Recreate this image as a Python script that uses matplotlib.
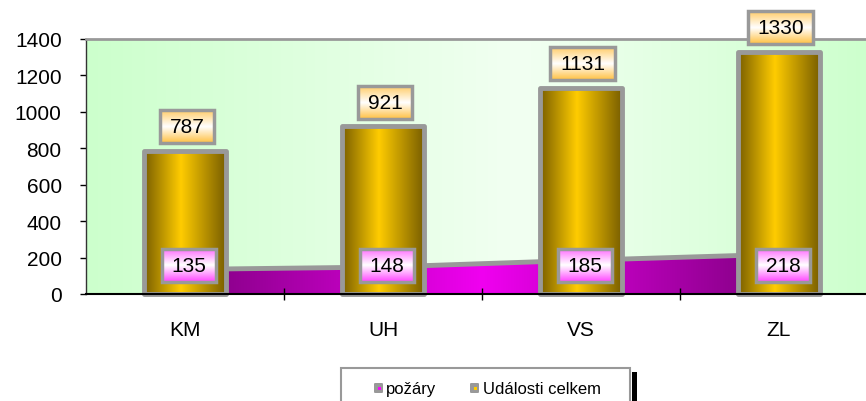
import numpy as np
import matplotlib
matplotlib.use("Agg")
import matplotlib.pyplot as plt
from matplotlib.colors import LinearSegmentedColormap
from matplotlib.patches import Rectangle, Polygon, FancyBboxPatch

plt.rcParams['font.family'] = ['Liberation Sans', 'DejaVu Sans']

# data
categories = ["KM", "UH", "VS", "ZL"]
udalosti = [787, 921, 1131, 1330]
pozary = [135, 148, 185, 218]
yticks = [0, 200, 400, 600, 800, 1000, 1200, 1400]
legend_labels = ["požáry", "Události celkem"]

W, H = 866, 402
fig = plt.figure(figsize=(W / 100, H / 100), dpi=100)
# plot area in pixels: left 86, top 40, bottom 295, right 878 (runs off the figure)
ax = fig.add_axes([86 / W, 1 - 295 / H, 792 / W, 255 / H])
x0, x1, y0, y1 = -0.5, 3.5, 0, 1400
px_x = (x1 - x0) / 792.0
px_y = (y1 - y0) / 255.0

gray = "#999999"
bg_cmap = LinearSegmentedColormap.from_list("bg", [(0, "#ccffcc"), (0.55, "#f2fff2"), (1, "#ccffcc")])
bar_cmap = LinearSegmentedColormap.from_list("bar", [(0, "#7a5f00"), (0.45, "#ffcc00"), (1, "#7a5f00")])
area_cmap = LinearSegmentedColormap.from_list("area", [(0, "#800080"), (0.5, "#f000f0"), (1, "#800080")])
tot_cmap = LinearSegmentedColormap.from_list("tot", [(0, "#ffcc66"), (0.5, "#ffffff"), (1, "#ffc040")])
poz_cmap = LinearSegmentedColormap.from_list("poz", [(0, "#ff66ff"), (0.5, "#ffffff"), (1, "#ff44ff")])

hgrad = np.linspace(0, 1, 256).reshape(1, -1)
vgrad = np.linspace(0, 1, 256).reshape(-1, 1)

# background
ax.imshow(hgrad, extent=[x0, x1, y0, y1], aspect="auto", cmap=bg_cmap, zorder=0)

# area series (požáry)
xs = np.arange(len(categories))
verts = [(xs[0], 0)] + list(zip(xs, pozary)) + [(xs[-1], 0)]
poly = Polygon(verts, closed=True, facecolor="none", edgecolor="none", transform=ax.transData)
ax.add_patch(poly)
im = ax.imshow(hgrad, extent=[xs[0], xs[-1], 0, max(pozary)], aspect="auto", cmap=area_cmap, zorder=1)
im.set_clip_path(poly)
ax.plot(xs, pozary, color=gray, lw=3.5, zorder=1.5, solid_capstyle="butt")

# bars (Události celkem)
bw = 0.41
for i, v in enumerate(udalosti):
    ax.imshow(hgrad, extent=[i - bw / 2, i + bw / 2, 0, v], aspect="auto", cmap=bar_cmap, zorder=3)
    ax.add_patch(Rectangle((i - bw / 2, 0), bw, v, fill=False, edgecolor=gray, lw=3.5,
                           joinstyle="round", zorder=4, clip_on=False))


def label_box(xc, yc, text, cmap):
    w = (len(text) * 11 + 21) * px_x
    h = 33 * px_y
    ext = [xc - w / 2, xc + w / 2, yc - h / 2, yc + h / 2]
    img = ax.imshow(vgrad, extent=ext, aspect="auto", cmap=cmap, zorder=5, origin="upper")
    img.set_clip_on(False)
    ax.add_patch(Rectangle((ext[0], ext[2]), w, h, fill=False, edgecolor=gray, lw=2.5,
                           zorder=6, clip_on=False))
    ax.text(xc, yc, text, ha="center", va="center", fontsize=15, zorder=7, clip_on=False)


for i, v in enumerate(udalosti):
    label_box(i + 0.01, v + 132, str(v), tot_cmap)
for i, v in enumerate(pozary):
    label_box(i + 0.02, 158, str(v), poz_cmap)

ax.set_xlim(x0, x1)
ax.set_ylim(y0, y1)

# axes styling
ax.spines["top"].set_color(gray)
ax.spines["top"].set_linewidth(2)
ax.spines["right"].set_visible(False)
ax.spines["left"].set_color("#333333")
ax.spines["left"].set_linewidth(1)
ax.spines["bottom"].set_color("black")
ax.spines["bottom"].set_linewidth(1.5)
ax.spines["bottom"].set_zorder(8)

ax.set_yticks(yticks)
ax.set_yticklabels([str(t) for t in yticks], fontsize=15)
ax.tick_params(axis="y", direction="out", length=4.5, width=1, pad=13)

ax.set_xticks(xs[:-1] + 0.5)
ax.set_xticklabels([])
ax.tick_params(axis="x", which="major", direction="inout", length=9, width=1)
ax.set_xticks(xs, minor=True)
ax.set_xticklabels(categories, minor=True, fontsize=15)
ax.tick_params(axis="x", which="minor", length=0, pad=19)

# legend drawn in figure pixels
def fx(p):
    return p / W


def fy(p):
    return 1 - p / H


fig.add_artist(Rectangle((fx(632), fy(405)), fx(5), 32 / H, transform=fig.transFigure,
                         facecolor="black", edgecolor="none", clip_on=False))
fig.add_artist(Rectangle((fx(341), fy(410)), fx(630 - 341), 41 / H, transform=fig.transFigure,
                         facecolor="white", edgecolor=gray, lw=1.5, clip_on=False))
for lx, tx, col, lab in [(374, 386, "#ff00ff", legend_labels[0]),
                         (470, 483, "#ffcc00", legend_labels[1])]:
    fig.add_artist(FancyBboxPatch((fx(lx), fy(394)), fx(9), 10 / H,
                                  boxstyle="round,pad=0,rounding_size=0.002",
                                  transform=fig.transFigure, facecolor=gray, edgecolor="none"))
    fig.add_artist(Rectangle((fx(lx + 3.5), fy(390.5)), fx(3), 3 / H, transform=fig.transFigure,
                             facecolor=col, edgecolor="none"))
    fig.text(fx(tx), fy(390), lab, ha="left", va="center", fontsize=12)

fig.savefig("out.png", dpi=100)
